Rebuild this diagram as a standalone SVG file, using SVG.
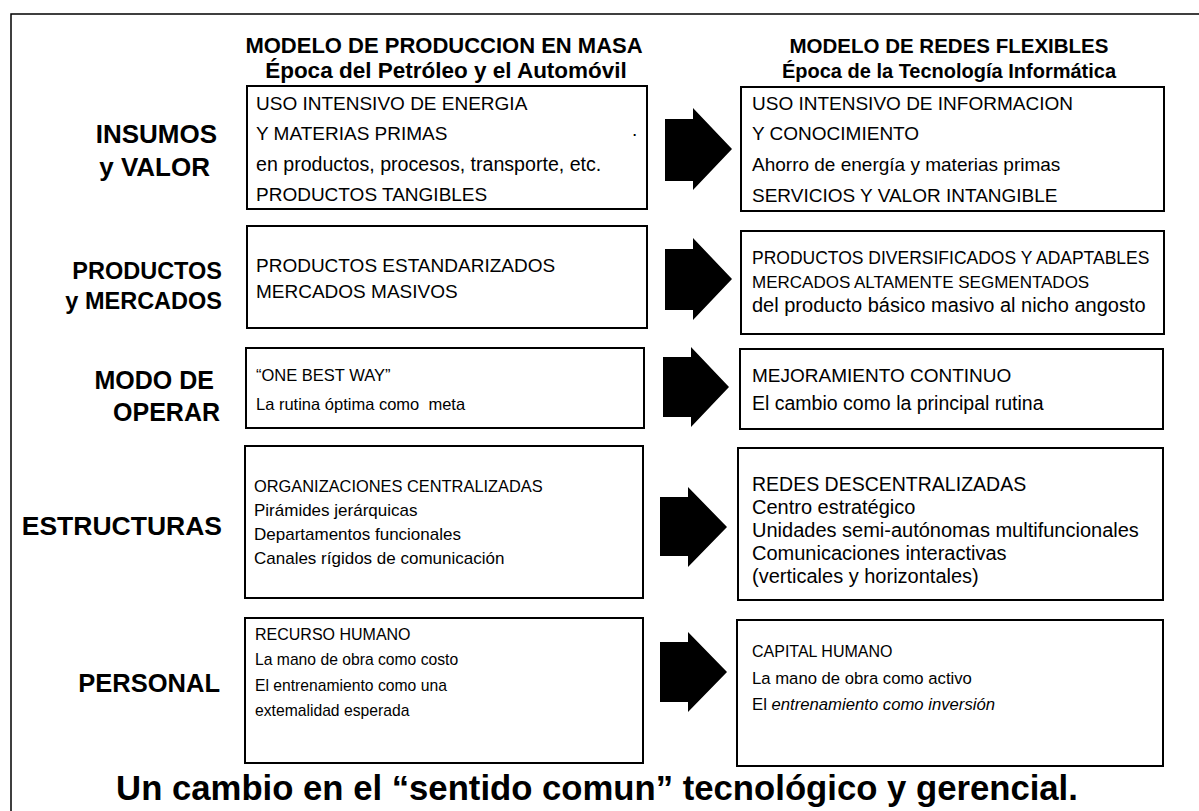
<svg xmlns="http://www.w3.org/2000/svg" width="1199" height="811" viewBox="0 0 1199 811">
<style>
text{font-family:"Liberation Sans",Arial,Helvetica,sans-serif;fill:#000}
.hd{font-weight:bold;text-anchor:middle}
.lb{font-weight:bold;text-anchor:end}
.bx{fill:#fff;stroke:#000;stroke-width:2}
.t20{font-size:20px}
.t19{font-size:19px}
.t17{font-size:17px}
.t16{font-size:16px}
.arr{fill:#000}
.ttl{font-size:34.7px;font-weight:bold;text-anchor:middle}
</style>
<rect width="1199" height="811" fill="#fff"/>
<g id="frame" fill="none" stroke="#000" stroke-width="1.5">
<path d="M11,811 V14 H1199"/>
</g>
<g id="headers">
<text class="hd" x="444" y="53" font-size="22">MODELO DE PRODUCCION EN MASA</text>
<text class="hd" x="446" y="78" font-size="22.5">Época del Petróleo y el Automóvil</text>
<text class="hd" x="949" y="53" font-size="20.5">MODELO DE REDES FLEXIBLES</text>
<text class="hd" x="949" y="78" font-size="20">Época de la Tecnología Informática</text>
</g>
<g id="labels">
<text class="lb" x="217" y="143" font-size="26">INSUMOS</text>
<text class="lb" x="210" y="176" font-size="26">y VALOR</text>
<text class="lb" x="222" y="279" font-size="23.5">PRODUCTOS</text>
<text class="lb" x="222" y="309" font-size="23.5">y MERCADOS</text>
<text class="lb" x="214" y="389" font-size="25">MODO DE</text>
<text class="lb" x="220" y="421" font-size="25">OPERAR</text>
<text class="lb" x="222" y="535" font-size="26.5">ESTRUCTURAS</text>
<text class="lb" x="220" y="692" font-size="25.5">PERSONAL</text>
</g>
<g id="L1">
<rect class="bx" x="247" y="86" width="400" height="123"/>
<text class="t19" x="256" y="110">USO INTENSIVO DE ENERGIA</text>
<text class="t19" x="256" y="140">Y MATERIAS PRIMAS</text>
<text x="256" y="171" font-size="19.6">en productos, procesos, transporte, etc.</text>
<text class="t19" x="256" y="201">PRODUCTOS TANGIBLES</text>
<text class="t19" x="632" y="136">.</text>
</g>
<g id="L2">
<rect class="bx" x="247" y="226" width="400" height="102"/>
<text class="t19" x="256" y="272">PRODUCTOS ESTANDARIZADOS</text>
<text class="t19" x="256" y="298">MERCADOS MASIVOS</text>
</g>
<g id="L3">
<rect class="bx" x="246" y="348" width="398" height="80"/>
<text x="256" y="381" font-size="16.5">“ONE BEST WAY”</text>
<text x="256" y="410" font-size="16.5" xml:space="preserve">La rutina óptima como  meta</text>
</g>
<g id="L4">
<rect class="bx" x="245" y="446" width="398" height="152"/>
<text x="254" y="492" font-size="16.4">ORGANIZACIONES CENTRALIZADAS</text>
<text class="t17" x="254" y="516">Pirámides jerárquicas</text>
<text class="t17" x="254" y="540">Departamentos funcionales</text>
<text class="t17" x="254" y="564">Canales rígidos de comunicación</text>
</g>
<g id="L5">
<rect class="bx" x="245" y="618" width="398" height="145"/>
<text class="t16" x="255" y="640">RECURSO HUMANO</text>
<text x="255" y="665" font-size="15.7">La mano de obra como costo</text>
<text x="255" y="691" font-size="15.7">El entrenamiento como una</text>
<text x="255" y="716" font-size="15.7">extemalidad esperada</text>
</g>
<g id="R1">
<rect class="bx" x="741" y="87" width="423" height="124"/>
<text class="t19" x="752" y="110">USO INTENSIVO DE INFORMACION</text>
<text class="t19" x="752" y="140">Y CONOCIMIENTO</text>
<text class="t19" x="752" y="171">Ahorro de energía y materias primas</text>
<text class="t19" x="752" y="202">SERVICIOS Y VALOR INTANGIBLE</text>
</g>
<g id="R2">
<rect class="bx" x="741" y="231" width="423" height="103"/>
<text x="752" y="264" font-size="17.5">PRODUCTOS DIVERSIFICADOS Y ADAPTABLES</text>
<text class="t17" x="752" y="288">MERCADOS ALTAMENTE SEGMENTADOS</text>
<text x="752" y="312" font-size="20">del producto básico masivo al nicho angosto</text>
</g>
<g id="R3">
<rect class="bx" x="740" y="349" width="423" height="80"/>
<text class="t19" x="752" y="382">MEJORAMIENTO CONTINUO</text>
<text x="752" y="410" font-size="19.5">El cambio como la principal rutina</text>
</g>
<g id="R4">
<rect class="bx" x="738" y="448" width="425" height="152"/>
<text x="752" y="491" font-size="19.5">REDES DESCENTRALIZADAS</text>
<text class="t20" x="752" y="514">Centro estratégico</text>
<text class="t20" x="752" y="537">Unidades semi-autónomas multifuncionales</text>
<text class="t20" x="752" y="560">Comunicaciones interactivas</text>
<text class="t20" x="752" y="583">(verticales y horizontales)</text>
</g>
<g id="R5">
<rect class="bx" x="737" y="620" width="426" height="146"/>
<text class="t16" x="752" y="657">CAPITAL HUMANO</text>
<text x="752" y="684" font-size="16.7">La mano de obra como activo</text>
<text x="752" y="710" font-size="16.7">El <tspan font-style="italic">entrenamiento como inversión</tspan></text>
</g>
<g id="connectors" class="arr">
<path d="M665,119 H693 V108 L732,149 L693,190 V181 H665 Z"/>
<path d="M665,249 H693 V238 L732,279 L693,320 V310 H665 Z"/>
<path d="M663,357 H691 V347 L729,387 L691,427 V417 H663 Z"/>
<path d="M660,497 H688 V487 L727,527 L688,567 V556 H660 Z"/>
<path d="M660,642 H688 V632 L727,672 L688,712 V702 H660 Z"/>
</g>
<g id="title">
<text class="ttl" x="597" y="800">Un cambio en el “sentido comun” tecnológico y gerencial.</text>
</g>
</svg>
